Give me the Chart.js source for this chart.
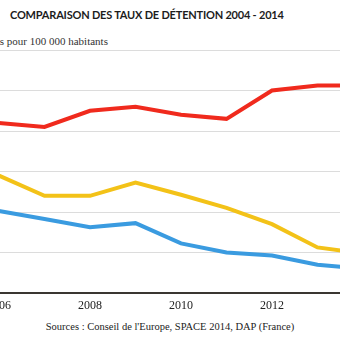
<!DOCTYPE html>
<html>
<head>
<meta charset="utf-8">
<script src="https://cdn.jsdelivr.net/npm/chart.js@4"></script>
<style>
  html, body { margin: 0; padding: 0; background: #fff; }
  #page { position: relative; width: 340px; height: 340px; overflow: hidden; background: #fff; }
  #titre { position: absolute; left: 10px; top: 8px; font-family: Lato, sans-serif; font-weight: 700;
           font-size: 11px; letter-spacing: -0.2px; color: #1c1c1c; white-space: nowrap; }
  #soustitre { position: absolute; top: 35px; font-family: "Liberation Serif", serif; font-size: 11px;
               color: #333; white-space: nowrap; }
  #sources { position: absolute; left: 0; width: 340px; top: 321px; text-align: center;
             font-family: "Liberation Serif", serif; font-size: 10.5px; color: #222; white-space: nowrap; }
  #cadre { position: absolute; left: 0; top: 0; }
</style>
</head>
<body>
<div id="page">
  <div id="titre">COMPARAISON DES TAUX DE DÉTENTION 2004 - 2014</div>
  <div id="soustitre"><span id="cache">Détenu</span>s pour 100 000 habitants</div>
  <div id="cadre"><canvas id="myChart" width="420" height="290"></canvas></div>
  <div id="sources">Sources : Conseil de l'Europe, SPACE 2014, DAP (France)</div>
</div>
<script>
// Données
var annees = ['2006', '2007', '2008', '2009', '2010', '2011', '2012', '2013', '2014'];
var rouge = [84, 82, 90, 92, 88, 86, 100, 102.5, 102.5];
var jaune = [58, 48, 48, 54.5, 48.5, 42, 34, 22.5, 19.5];
var bleu = [40.5, 36.5, 32.5, 34.5, 24.5, 20, 18.5, 14, 12];
var graduations = [0, 20, 40, 60, 80, 100, 120];

// le "Détenu" du sous-titre sort de l'image
document.getElementById('soustitre').style.left = -document.getElementById('cache').offsetWidth + 'px';

var config = {
    type: 'line',
    data: {
        labels: annees,
        datasets: [
            { label: 'Rouge', data: rouge, borderColor: '#f02a1d' },
            { label: 'Jaune', data: jaune, borderColor: '#f3c218' },
            { label: 'Bleu', data: bleu, borderColor: '#3a9be0' }
        ]
    },
    options: {
        responsive: false,
        maintainAspectRatio: false,
        animation: false,
        layout: { padding: 0 },
        plugins: { legend: { display: false }, tooltip: { enabled: false } },
        elements: {
            point: { radius: 0 },
            line: { borderWidth: 4, tension: 0, fill: false }
        },
        scales: {
            x: {
                offset: false,
                grid: { display: false },
                border: { color: '#3a3631', width: 2 },
                ticks: {
                    autoSkip: false,
                    maxRotation: 0,
                    padding: -2,
                    color: '#222',
                    font: { family: 'Liberation Serif', size: 12 },
                    callback: function (v, i) { return annees[i] % 2 === 0 ? annees[i] : ''; }
                }
            },
            y: {
                min: graduations[0],
                max: graduations[graduations.length - 1],
                ticks: { display: false, stepSize: 20 },
                grid: { color: '#dcdcdc', drawTicks: false, lineWidth: 1 },
                border: { display: false }
            }
        }
    }
};

var myChart = new Chart(document.getElementById('myChart'), config);

// on cale la zone du graphique : 2006 à x=-1, 2014 à x=363, haut à 50, bas à 295
var ca = myChart.chartArea;
var w = 420 + (364 - (ca.right - ca.left));
var h = 290 + (245 - (ca.bottom - ca.top));
myChart.resize(w, h);
ca = myChart.chartArea;
var cadre = document.getElementById('cadre');
cadre.style.left = (-1 - ca.left) + 'px';
cadre.style.top = (50 - ca.top) + 'px';
</script>
</body>
</html>
